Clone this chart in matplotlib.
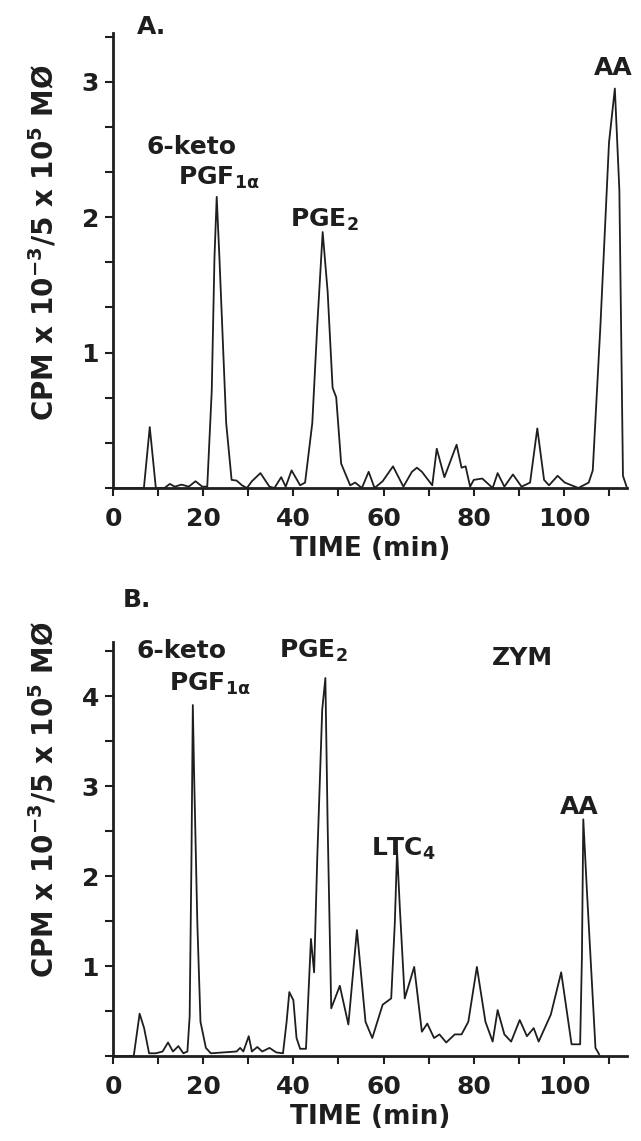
import matplotlib
matplotlib.use("Agg")
import matplotlib.pyplot as plt
from matplotlib.ticker import MultipleLocator

plt.rcParams['font.family'] = ['DejaVu Sans']
plt.rcParams['font.weight'] = 'bold'
plt.rcParams['mathtext.default'] = 'regular'

# Panel A - resting macrophages
time_a = [0, 6.85, 8.15, 9.5, 11.4, 12.6, 13.7, 15.2, 16.8, 18.3, 19.8, 20.9, 21.9, 22.5,
          23.0, 23.6, 25.1, 26.3, 27.4, 28.6, 29.7, 30.8, 32.7, 34.7, 35.8, 37.3, 38.3,
          39.6, 41.5, 42.6, 44.2, 45.3, 46.5, 47.6, 48.7, 49.5, 50.6, 52.6, 53.7, 55.2,
          56.7, 58.0, 59.8, 62.1, 64.4, 66.3, 67.4, 68.5, 70.8, 71.8, 73.5, 76.2, 77.3,
          78.2, 79.2, 80.0, 81.9, 84.2, 85.3, 86.8, 88.7, 90.6, 92.5, 94.1, 95.6, 96.7,
          98.6, 100.2, 101.7, 103.2, 105.5, 106.4, 108.1, 110.0, 111.3, 112.3, 113.1, 113.9]
cpm_a = [0, 0, 0.45, 0, 0, 0.03, 0.01, 0.025, 0.01, 0.05, 0.01, 0.01, 0.72, 1.7,
         2.15, 1.7, 0.48, 0.06, 0.055, 0.02, 0, 0.05, 0.11, 0.01, 0, 0.08, 0.01,
         0.13, 0.02, 0.04, 0.48, 1.2, 1.89, 1.45, 0.74, 0.67, 0.18, 0.02, 0.04, 0,
         0.12, 0, 0.05, 0.16, 0.01, 0.12, 0.15, 0.12, 0.02, 0.29, 0.08, 0.32, 0.15,
         0.16, 0.01, 0.06, 0.07, 0, 0.11, 0.01, 0.10, 0.01, 0.04, 0.44, 0.06, 0.02,
         0.09, 0.04, 0.02, 0, 0.04, 0.13, 1.2, 2.55, 2.95, 2.2, 0.09, 0.01]

# Panel B - zymosan stimulated
time_b = [0, 4.6, 5.9, 6.9, 8.0, 9.5, 11.0, 12.2, 13.3, 14.5, 15.6, 16.5, 17.0, 17.4,
          17.7, 18.0, 18.7, 19.4, 20.6, 21.7, 27.4, 28.2, 28.9, 30.1, 30.8, 32.0, 33.1,
          34.7, 36.2, 37.7, 38.5, 39.1, 40.0, 40.7, 41.5, 42.8, 43.4, 43.9, 44.6, 45.3,
          46.4, 47.1, 47.6, 48.4, 50.3, 52.2, 54.1, 56.0, 57.5, 59.8, 61.7, 62.5, 63.0,
          63.6, 64.7, 66.8, 68.5, 69.7, 71.2, 72.4, 73.9, 75.8, 77.3, 78.8, 80.7, 82.6,
          84.2, 85.3, 86.8, 88.3, 90.2, 91.8, 93.3, 94.4, 97.1, 99.4, 101.7, 103.6,
          104.0, 104.3, 105.1, 107.0, 107.8]
cpm_b = [0, 0, 0.47, 0.31, 0.03, 0.03, 0.05, 0.15, 0.05, 0.11, 0.03, 0.05, 0.44, 2.2,
         3.9, 3.1, 1.48, 0.38, 0.09, 0.03, 0.05, 0.09, 0.05, 0.22, 0.05, 0.10, 0.05,
         0.09, 0.04, 0.03, 0.38, 0.71, 0.62, 0.20, 0.08, 0.08, 0.75, 1.3, 0.93, 2.2,
         3.85, 4.2, 2.57, 0.53, 0.78, 0.35, 1.4, 0.38, 0.20, 0.57, 0.64, 1.48, 2.28,
         1.66, 0.64, 0.99, 0.27, 0.36, 0.20, 0.24, 0.15, 0.24, 0.24, 0.38, 0.99, 0.38,
         0.16, 0.51, 0.24, 0.16, 0.40, 0.22, 0.31, 0.16, 0.46, 0.93, 0.13, 0.13,
         1.11, 2.63, 1.84, 0.09, 0.02]

x_major = [0, 20, 40, 60, 80, 100]
ylabel = r"CPM x 10$^{-3}$/5 x 10$^{5}$ MØ"
INK = '#1e1e1e'
FS = 18

fig = plt.figure(figsize=(6.41, 11.41), dpi=100)
ax_a = fig.add_axes([0.1763, 0.5723, 0.8019, 0.3988])
ax_b = fig.add_axes([0.1763, 0.0745, 0.8019, 0.3628])


def style(ax, ytop, yminor, label_y):
    ax.set_xlim(0, 114)
    ax.set_ylim(0, ytop)
    for s in ['top', 'right']:
        ax.spines[s].set_visible(False)
    for s in ['left', 'bottom']:
        ax.spines[s].set_linewidth(2.0)
        ax.spines[s].set_color(INK)
    ax.set_xticks(x_major)
    ax.xaxis.set_minor_locator(MultipleLocator(10))
    ax.yaxis.set_major_locator(MultipleLocator(1))
    ax.yaxis.set_minor_locator(MultipleLocator(yminor))
    ax.tick_params(which='both', direction='out', length=6, width=1.5,
                   color=INK, labelcolor=INK, labelsize=FS)
    ax.tick_params(axis='x', pad=8)
    ax.tick_params(axis='y', pad=4)
    ax.set_yticks([1, 2, 3] if ytop < 4 else [1, 2, 3, 4])
    ax.set_xlabel("TIME (min)", fontsize=FS + 1, fontweight='bold', color=INK, labelpad=3)
    ax.set_ylabel(ylabel, fontsize=20, fontweight='bold', color=INK)
    ax.yaxis.set_label_coords(-0.105, label_y)


style(ax_a, 3.36, 1 / 3, 0.54)
style(ax_b, 4.6, 0.5, 0.62)
ax_a.plot(time_a, cpm_a, color=INK, lw=1.3, clip_on=False)
ax_b.plot(time_b, cpm_b, color=INK, lw=1.3, clip_on=False)

kw = dict(fontsize=FS, fontweight='bold', color=INK, clip_on=False)
ax_a.text(5.3, 3.35, "A.", ha='left', va='baseline', **kw)
ax_a.text(17.3, 2.47, "6-keto", ha='center', va='baseline', **kw)
ax_a.text(23.5, 2.24, r"PGF$_{1\alpha}$", ha='center', va='baseline', **kw)
ax_a.text(46.9, 1.93, r"PGE$_{2}$", ha='center', va='baseline', **kw)
ax_a.text(111.0, 3.05, "AA", ha='center', va='baseline', **kw)

ax_b.text(2.2, 4.99, "B.", ha='left', va='baseline', **kw)
ax_b.text(15.3, 4.42, "6-keto", ha='center', va='baseline', **kw)
ax_b.text(21.5, 4.06, r"PGF$_{1\alpha}$", ha='center', va='baseline', **kw)
ax_b.text(44.5, 4.42, r"PGE$_{2}$", ha='center', va='baseline', **kw)
ax_b.text(90.7, 4.34, "ZYM", ha='center', va='baseline', **kw)
ax_b.text(64.4, 2.23, r"LTC$_{4}$", ha='center', va='baseline', **kw)
ax_b.text(103.5, 2.69, "AA", ha='center', va='baseline', **kw)

fig.savefig("out.png", dpi=100)
